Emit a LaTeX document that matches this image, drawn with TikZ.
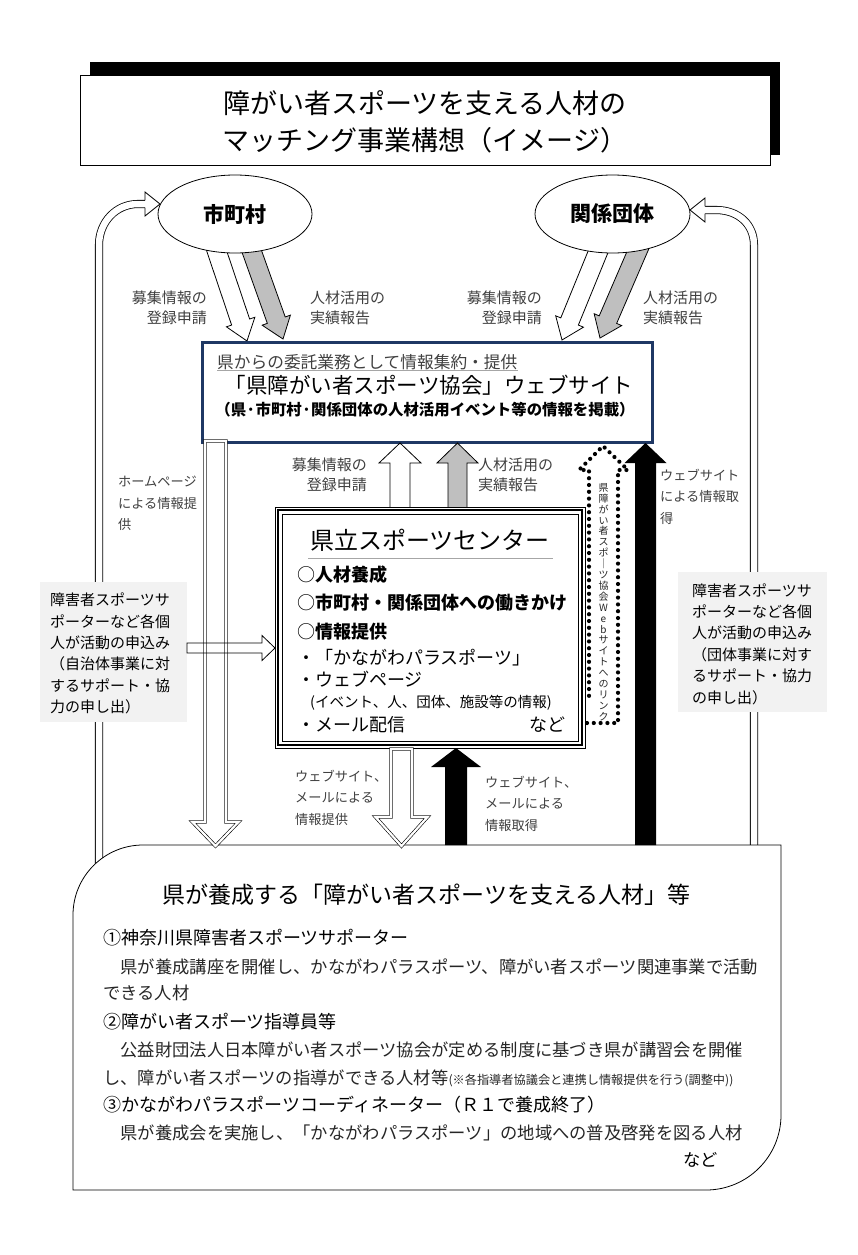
\documentclass[tikz,border=0pt]{standalone}
\usepackage{fontspec}
\setmainfont{Noto Sans CJK JP}
\usetikzlibrary{calc,shapes.geometric,decorations.markings}
\definecolor{webnavy}{HTML}{1F3864}
\definecolor{lblc}{HTML}{404040}
\definecolor{bodyc}{HTML}{262626}
\definecolor{boxg}{HTML}{F2F2F2}
\definecolor{arrg}{HTML}{BFBFBF}
\definecolor{ulg}{HTML}{A6A6A6}
\newcommand\fsz[2]{\fontsize{#1pt}{#2pt}\selectfont}
% #1 style, #2 from, #3 to, #4 half shaft, #5 half head, #6 head length
\newcommand\blockarrow[6]{%
  \coordinate (bahead) at ($(#3)!#6!(#2)$);
  \path[#1] ($(#2)!#4!90:(#3)$) -- ($(bahead)!#4!90:(#3)$) -- ($(bahead)!#5!90:(#3)$) -- (#3)
    -- ($(bahead)!#5!-90:(#3)$) -- ($(bahead)!#4!-90:(#3)$) -- ($(#2)!#4!-90:(#3)$) -- cycle;}
\begin{document}
\begin{tikzpicture}[x=1pt,y=-1pt,
  outer/.style={line width=0.8pt, double=white, double distance=6.5pt},
  warrow/.style={draw=black, fill=white, line width=0.8pt, line join=miter},
  garrow/.style={draw=black, fill=arrg, line width=0.8pt, line join=miter},
  barrow/.style={fill=black},
  darrow/.style={draw=black, fill=white, double=white, double distance=2.2pt, line width=0.6pt, line join=miter},
  harrow/.style={draw=black, line width=0.8pt, line join=miter},
  dotline/.style={postaction={decorate}, decoration={markings, mark=between positions 0 and 1 step 6.8pt with {\fill[black] (0,0) circle (2.1pt);}}},
  lbl/.style={text=lblc, inner sep=0pt, font=\fsz{15}{20}},
  slbl/.style={text=lblc, inner sep=0pt, font=\fsz{13.2}{21.5}, align=left, anchor=west},
  gtext/.style={inner sep=0pt, font=\fsz{15}{21.4}, align=left, anchor=west},
  ctext/.style={inner sep=0pt, font=\fsz{18}{18}, anchor=west},
  btext/.style={inner sep=0pt, font=\fsz{17.3}{17.3}, anchor=west, text=bodyc},
  bhead/.style={inner sep=0pt, font=\fsz{18}{18}, anchor=west},
]
\useasboundingbox (0,0) rectangle (858,1255);
\fill[white] (0,0) rectangle (858,1255);

% title
\fill[black] (90,62) rectangle (780,155);
\node[draw, fill=white, line width=0.8pt, minimum width=690pt, minimum height=90pt, inner sep=0pt] (titlebox) at (425,120) {};
\node[inner sep=0pt, align=center, font=\fsz{27}{37}] (ttl) at (425,121.5) {障がい者スポーツを支える人材の\\マッチング事業構想（イメージ）};

% outer curved arrows
\draw[outer] (99,880) -- (99,245) .. controls (99,222) and (116,204) .. (138,204) -- (145.5,204);
\coordinate (lhead) at (160,204);
\filldraw[fill=white, line width=0.8pt, line join=miter] (145,200.35) -- (145,192) -- (lhead) -- (145,216) -- (145,207.65);
\draw[outer] (754,880) -- (754,245) .. controls (754,224) and (738,210) .. (716,210) -- (704.5,210);
\coordinate (rhead) at (690,210);
\filldraw[fill=white, line width=0.8pt, line join=miter] (705,206.35) -- (705,198) -- (rhead) -- (705,222) -- (705,213.65);

% bottom box
\draw[fill=white, line width=0.8pt] (73,1190) -- (73,915) .. controls (73,876.4) and (104.4,845) .. (143,845) -- (781,845) -- (781,1115) .. controls (781,1156.4) and (747.4,1190) .. (706,1190) -- cycle;

% diagonal arrows
\coordinate (cw1) at (213,240); \coordinate (cw2) at (247,341);
\coordinate (cg1) at (247.7,240); \coordinate (cg2) at (283,339);
\coordinate (ow1) at (602.9,240); \coordinate (ow2) at (562,340);
\coordinate (og1) at (642.3,240); \coordinate (og2) at (600,338);
\blockarrow{warrow}{cw1}{cw2}{9.5pt}{15pt}{20pt}
\blockarrow{garrow}{cg1}{cg2}{9.5pt}{15pt}{20pt}
\blockarrow{warrow}{ow1}{ow2}{9.5pt}{15pt}{20pt}
\blockarrow{garrow}{og1}{og2}{9.5pt}{15pt}{20pt}

% ellipses
\node[ellipse, draw, fill=white, line width=0.8pt, minimum width=154pt, minimum height=78pt, font=\fsz{21}{21}\bfseries] (city) at (235,214) {市町村};
\node[ellipse, draw, fill=white, line width=0.8pt, minimum width=155pt, minimum height=78pt, font=\fsz{21}{21}\bfseries] (org) at (612.5,214) {関係団体};

% website box
\node[draw=webnavy, line width=3pt, fill=white, minimum width=450pt, minimum height=100pt, inner sep=0pt] (web) at (427,392) {};
\node[inner sep=0pt, anchor=west, font=\fsz{16.7}{16.7}, text=lblc] (w1) at (217,362) {県からの委託業務として情報集約・提供};
\draw[ulg, line width=0.8pt] (w1.south west) -- (w1.south east);
\node[inner sep=0pt, font=\fsz{21.5}{21.5}] (w2) at (429,385) {「県障がい者スポーツ協会」ウェブサイト};
\node[inner sep=0pt, font=\fsz{15.4}{15.4}\bfseries] (w3) at (425,410) {（県·市町村·関係団体の人材活用イベント等の情報を掲載）};

% left down double arrow (web -> bottom)
\coordinate (ld1) at (215.5,441); \coordinate (ld2) at (215.5,846);
\blockarrow{darrow}{ld1}{ld2}{10.5pt}{23pt}{24pt}

% gray boxes
\node[fill=boxg, minimum width=147pt, minimum height=140pt, inner sep=0pt] (lbox) at (113.5,652) {};
\node[gtext] (lboxt) at (50,653.5) {障害者スポーツサ\\ポーターなど各個\\人が活動の申込み\\（自治体事業に対\\するサポート・協\\力の申し出）};
\node[fill=boxg, minimum width=149pt, minimum height=140pt, inner sep=0pt] (rbox) at (752.5,642) {};
\node[gtext] (rboxt) at (692,644) {障害者スポーツサ\\ポーターなど各個\\人が活動の申込み\\（団体事業に対す\\るサポート・協力\\の申し出）};

% up arrows center -> web
\coordinate (uw1) at (400,508); \coordinate (uw2) at (400,443);
\coordinate (ug1) at (457.5,508); \coordinate (ug2) at (457.5,443);
\blockarrow{warrow}{uw1}{uw2}{10pt}{21pt}{20pt}
\blockarrow{garrow}{ug1}{ug2}{9.5pt}{20.5pt}{20pt}

% sports center
\node[draw, line width=0.8pt, fill=white, minimum width=310pt, minimum height=241pt, inner sep=0pt] (ctr) at (430,627.5) {};
\draw[line width=2.4pt] ([shift={(3.5,3.5)}]ctr.north west) rectangle ([shift={(-3.5,-3.5)}]ctr.south east);
\draw[line width=0.8pt] ([shift={(7.5,7.5)}]ctr.north west) rectangle ([shift={(-7.5,-7.5)}]ctr.south east);
\node[inner sep=0pt, font=\fsz{24}{24}] (ctitle) at (430,540) {県立スポーツセンター};
\draw[ulg, line width=0.8pt] (308,558) -- (553,558);
\node[ctext] (c1) at (297,575) {○\bfseries 人材養成};
\node[ctext] (c2) at (297,603) {○\bfseries 市町村・関係団体への働きかけ};
\node[ctext] (c3) at (297,632) {○\bfseries 情報提供};
\node[ctext] (c4) at (297,658) {・「かながわパラスポーツ」};
\node[ctext] (c5) at (297,679) {・ウェブページ};
\node[ctext, font=\fsz{14.5}{14.5}] (c6) at (310,703) {(イベント、人、団体、施設等の情報)};
\node[ctext] (c7) at (297,725) {・メール配信};
\node[inner sep=0pt, font=\fsz{18}{18}, anchor=east] (c8) at (566,725) {など};

% dotted link arrow
\coordinate (dl1) at (587,723); \coordinate (dl2) at (587,697);
\path[dotline] (dl1) -- (618,723) -- (618,470) -- (628,470) -- (603,446) -- (579,470) -- (589,470) -- (589,697) -- (dl2);
\node[inner sep=0pt, font=\fsz{10}{10.9}, align=center, text=bodyc] (vt) at (603.5,602) {県\\障\\が\\い\\者\\ス\\ポ\\｜\\ツ\\協\\会\\W\\e\\b\\サ\\イ\\ト\\へ\\の\\リ\\ン\\ク};

% black arrows
\coordinate (rb1) at (645.5,845); \coordinate (rb2) at (645.5,443);
\blockarrow{barrow}{rb1}{rb2}{10.5pt}{21pt}{20pt}
\coordinate (mb1) at (456,845); \coordinate (mb2) at (456,748);
\blockarrow{barrow}{mb1}{mb2}{11pt}{25pt}{19pt}

% middle down double arrow
\coordinate (md1) at (401.5,749); \coordinate (md2) at (401.5,846);
\blockarrow{darrow}{md1}{md2}{10.5pt}{26pt}{29pt}

% horizontal hollow arrow (left box -> center)
\coordinate (h1) at (187,648); \coordinate (h2) at (275,648);
\blockarrow{harrow}{h1}{h2}{5pt}{12.5pt}{13pt}

% labels
\node[lbl, align=right, anchor=east] (l1) at (207,308) {募集情報の\\登録申請};
\node[lbl, align=left, anchor=west] (l2) at (310,308) {人材活用の\\実績報告};
\node[lbl, align=right, anchor=east] (l3) at (542,308) {募集情報の\\登録申請};
\node[lbl, align=left, anchor=west] (l4) at (643,308) {人材活用の\\実績報告};
\node[lbl, align=right, anchor=east] (l5) at (367,475) {募集情報の\\登録申請};
\node[lbl, align=left, anchor=west] (l6) at (478,475) {人材活用の\\実績報告};
\node[slbl] (l7) at (118,503.5) {ホームページ\\による情報提\\供};
\node[slbl] (l8) at (660,496.5) {ウェブサイト\\による情報取\\得};
\node[slbl] (l9) at (295,797.5) {ウェブサイト、\\メールによる\\情報提供};
\node[slbl] (l10) at (485,803.5) {ウェブサイト、\\メールによる\\情報取得};

% bottom box text
\node[inner sep=0pt, font=\fsz{23}{23}] (bt) at (426.5,895) {県が養成する「障がい者スポーツを支える人材」等};
\node[bhead] (b1) at (103,938) {①神奈川県障害者スポーツサポーター};
\node[btext] (b2) at (103,967) {　県が養成講座を開催し、かながわパラスポーツ、障がい者スポーツ関連事業で活動};
\node[btext] (b3) at (103,993) {できる人材};
\node[bhead] (b4) at (103,1022) {②障がい者スポーツ指導員等};
\node[btext] (b5) at (103,1050) {　公益財団法人日本障がい者スポーツ協会が定める制度に基づき県が講習会を開催};
\node[btext] (b6) at (103,1078) {し、障がい者スポーツの指導ができる人材等{\fsz{12.2}{12.2}(※各指導者協議会と連携し情報提供を行う(調整中))}};
\node[bhead] (b7) at (103,1105) {③かながわパラスポーツコーディネーター（Ｒ１で養成終了）};
\node[btext] (b8) at (103,1133) {　県が養成会を実施し、「かながわパラスポーツ」の地域への普及啓発を図る人材};
\node[inner sep=0pt, font=\fsz{17.3}{17.3}, anchor=east] (b9) at (718,1160) {など};
\end{tikzpicture}
\end{document}
